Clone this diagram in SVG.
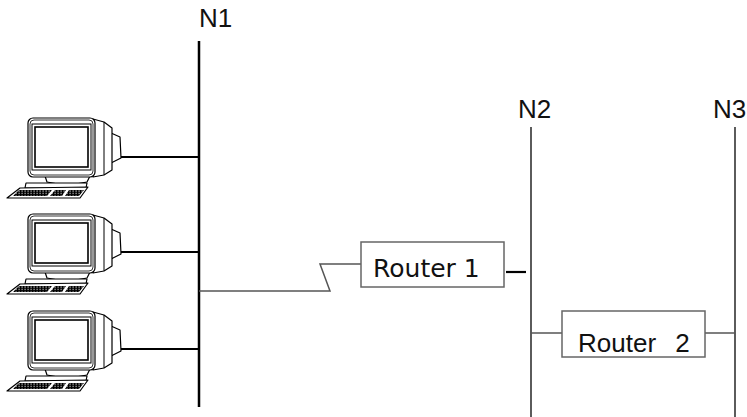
<svg xmlns="http://www.w3.org/2000/svg" width="747" height="417" viewBox="0 0 747 417">
<style>
.lbl{font-family:"Liberation Sans",Arial,sans-serif;font-size:26px;fill:#111}
.rt1{font-family:"DejaVu Sans",Verdana,sans-serif;font-size:25px;fill:#111}
.rt2{font-family:"Liberation Sans",Arial,sans-serif;font-size:26px;fill:#111;word-spacing:12px}
.box{fill:#fff;stroke:#666;stroke-width:1.5}
.thin{fill:none;stroke:#555;stroke-width:1.5}
.bus{fill:none;stroke:#000;stroke-width:2.5}
.bus2{fill:none;stroke:#333;stroke-width:1.6}
.thick{fill:none;stroke:#000;stroke-width:2.2}
.pc{fill:#fff;stroke:#000;stroke-width:1.2;stroke-linejoin:round}
</style>
<defs>
<pattern id="keys" width="3" height="2.5" patternUnits="userSpaceOnUse">
<rect width="3" height="2.5" fill="#000"/>
<rect x="0.5" y="0.5" width="1.2" height="1" fill="#fff"/>
</pattern>
<g id="computer">
<path class="pc" d="M111,133 L120,137 L121,158 L111,163 Z"/>
<path class="pc" d="M93,119 L104,122 L112,128 L112,170 L104,175 L93,177 Z"/>
<line x1="104" y1="122" x2="104" y2="175" stroke="#000" stroke-width="1"/>
<path class="pc" d="M45,176 L47,182 Q67,187 87,182 L90,176 Z"/>
<rect class="pc" x="28" y="118" width="67" height="59" rx="5" stroke-width="1.6"/>
<rect x="30" y="120" width="63" height="55" rx="4" fill="none" stroke="#000" stroke-width="0.8"/>
<rect x="32" y="124" width="59" height="46" fill="#fff" stroke="#000" stroke-width="1"/>
<rect x="35" y="127" width="53" height="40" fill="#fff" stroke="#000" stroke-width="1.6"/>
<path class="pc" d="M26,183 L87,183 L86,188 L25,188 Z"/>
<path class="pc" d="M20,188 L88,187 L80,198 L7,198 Z" stroke-width="1.6"/>
<path d="M19,190 L52,190 L47,196 L13,196 Z" fill="url(#keys)"/>
<path d="M55,190 L66,190 L62,196 L50,196 Z" fill="url(#keys)"/>
<path d="M69,190 L84,190 L79,196 L65,196 Z" fill="url(#keys)"/>
</g>
</defs>

<g id="connectors">
<line class="bus" x1="199" y1="41" x2="199" y2="407"/>
<line class="bus2" x1="531" y1="127" x2="531" y2="417"/>
<line class="bus2" x1="735" y1="127" x2="735" y2="417"/>
<line class="thick" x1="121" y1="157" x2="199" y2="157"/>
<line class="thick" x1="121" y1="252" x2="199" y2="252"/>
<line class="thick" x1="121" y1="349" x2="199" y2="349"/>
<polyline class="thin" points="199,291 330,291 320,264 361,264"/>
<line class="thick" x1="506" y1="272" x2="526" y2="272"/>
<line class="thin" x1="531" y1="333" x2="562" y2="333"/>
<line class="thin" x1="705" y1="333" x2="735" y2="333"/>
</g>

<g id="pc1"><use href="#computer"/></g>
<g id="pc2"><use href="#computer" transform="translate(0,96)"/></g>
<g id="pc3"><use href="#computer" transform="translate(0,193)"/></g>

<g id="n1"><text class="lbl" x="199" y="27">N1</text></g>
<g id="n2"><text class="lbl" x="518" y="118">N2</text></g>
<g id="n3"><text class="lbl" x="713" y="118">N3</text></g>

<g id="router1">
<rect class="box" x="361" y="242" width="143" height="45"/>
<text class="rt1" x="373" y="277">Router 1</text>
</g>
<g id="router2">
<rect class="box" x="562" y="311" width="143" height="46"/>
<text class="rt2" x="578" y="352">Router 2</text>
</g>
</svg>
